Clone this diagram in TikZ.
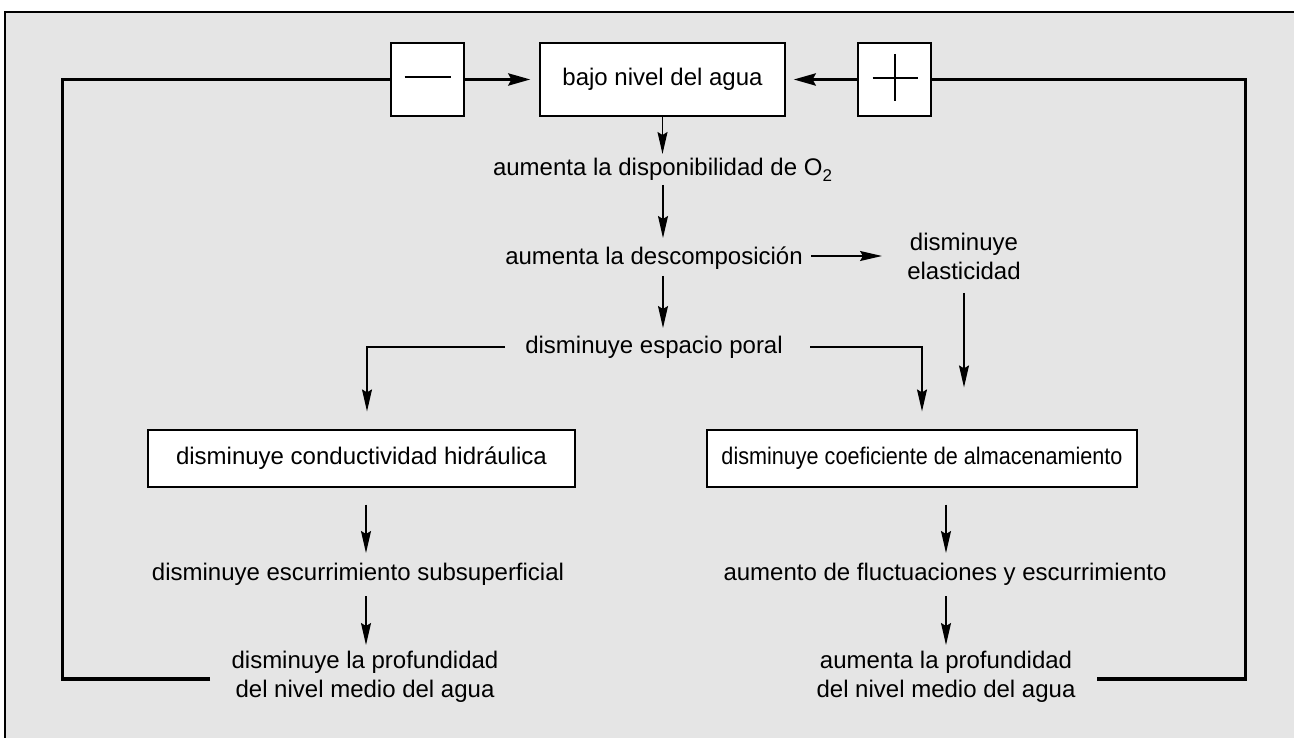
\documentclass[tikz,border=0pt]{standalone}
\usepackage{fontspec}
\usepackage{graphicx}
\setmainfont{Liberation Sans}
\usetikzlibrary{arrows.meta,calc}
\definecolor{bgc}{HTML}{E5E5E5}
\begin{document}
\begin{tikzpicture}[x=1pt,y=-1pt,
  every node/.style={font=\fontsize{24}{29}\selectfont},
  txt/.style={inner sep=0pt, align=center},
  box/.style={draw, line width=1.2pt, fill=white, inner sep=0pt, align=center},
  arr/.style={line width=1.3pt, -{Stealth[length=22pt,width=10pt,inset=3pt]}},
  thk/.style={line width=3.5pt},
  tarr/.style={line width=3.5pt, -{Stealth[length=22pt,width=12pt,inset=3pt]}}]
\useasboundingbox (0,0) rectangle (1294,738);
\fill[bgc] (5,12) rectangle (1294,738);
\draw[line width=2pt] (5,738) -- (5,12) -- (1294,12);

% top row
\node[box, minimum width=73pt, minimum height=73pt] (minus) at (427.5,79.5) {};
\node[box, minimum width=245pt, minimum height=73pt] (bajo) at (662.5,79.5) {bajo nivel del agua};
\node[box, minimum width=73pt, minimum height=73pt] (plus) at (894.5,79.5) {};
\draw[line width=2pt] ($(minus.center)+(-23,-2)$) -- ($(minus.center)+(23,-2)$);
\draw[line width=2pt] ($(plus.center)+(-22,-1.5)$) -- ($(plus.center)+(23,-1.5)$);
\draw[line width=2pt] ($(plus.center)+(0,-25.5)$) -- ($(plus.center)+(0,21.5)$);

% text nodes
\node[txt] (disp) at (662.5,170) {aumenta la disponibilidad de O\raisebox{-6pt}{\fontsize{17}{17}\selectfont 2}};
\node[txt] (desc) at (654,258) {aumenta la descomposición};
\node[txt] (elas) at (964,256) {disminuye\\elasticidad};
\node[txt] (esp) at (654,347) {disminuye espacio poral};
\node[box, minimum width=427pt, minimum height=57pt] (lbox) at (361.5,458.5) {disminuye conductividad hidráulica};
\node[box, minimum width=430pt, minimum height=57pt] (rbox) at (922,458.5) {\scalebox{0.9}[1]{disminuye coeficiente de almacenamiento}};
\node[txt] (esc) at (358,574) {disminuye escurrimiento subsuperficial};
\node[txt] (fluc) at (945,574) {aumento de fluctuaciones y escurrimiento};
\node[txt] (bl) at (365,677) {disminuye la profundidad\\del nivel medio del agua};
\node[txt] (br) at (946,677) {aumenta la profundidad\\del nivel medio del agua};

% feedback loops
\draw[thk] ($(bl.center)+(-155,2)$) -| ($(minus.west)+(-328,0)$) -- (minus.west);
\draw[tarr, shorten >=9pt] (minus.east) -- (bajo.west);
\draw[thk] ($(br.center)+(151,2)$) -| ($(plus.east)+(314,0)$) -- (plus.east);
\draw[tarr, shorten >=8pt] (plus.west) -- (bajo.east);

% thin arrows
\draw[arr] (bajo.south) -- ($(disp.center)+(0,-16)$);
\draw[arr] ($(disp.center)+(0.5,15)$) -- ($(desc.center)+(9,-20)$);
\draw[arr] ($(desc.center)+(157,-2)$) -- ($(elas.center)+(-82,0)$);
\draw[arr] ($(elas.center)+(0,37)$) -- ($(rbox.north)+(42,-42)$);
\draw[arr] ($(desc.center)+(9,18)$) -- ($(esp.center)+(9,-19)$);
\draw[arr] ($(esp.center)+(-149,0)$) -| ($(lbox.north)+(5.5,-18)$);
\draw[arr] ($(esp.center)+(156,0)$) -| ($(rbox.north)+(0,-18)$);
\draw[arr] ($(lbox.south)+(4.5,17)$) -- ($(esc.center)+(8,-21)$);
\draw[arr] ($(esc.center)+(8,22)$) -- ($(bl.center)+(1,-32)$);
\draw[arr] ($(rbox.south)+(24,17)$) -- ($(fluc.center)+(1,-21)$);
\draw[arr] ($(fluc.center)+(1,22)$) -- ($(br.center)+(0,-32)$);
\end{tikzpicture}
\end{document}
